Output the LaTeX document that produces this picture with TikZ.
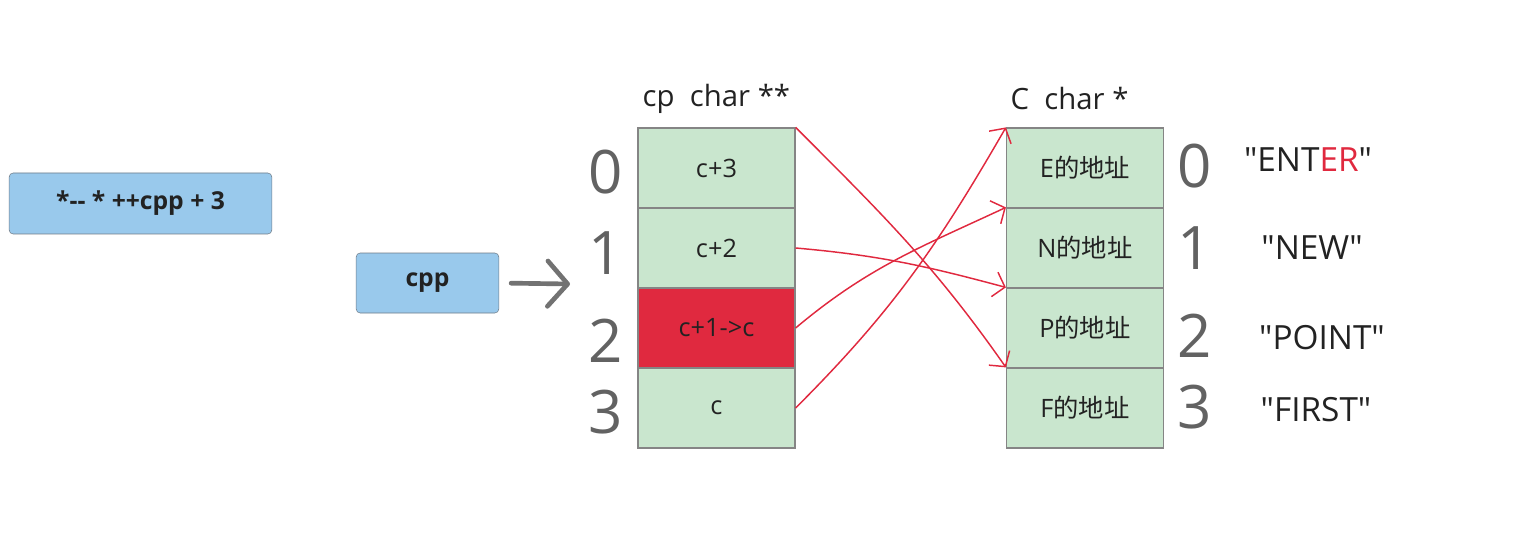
\documentclass[tikz,border=0pt]{standalone}
\usepackage{xcolor}
\usepackage{tikz}
\usepackage{fontspec}
\setmainfont{Open Sans}[Ligatures=TeXOff]
\newfontfamily\cjk{Noto Sans CJK SC}
\usetikzlibrary{positioning,calc,arrows.meta}

\definecolor{boxblue}{HTML}{99C9EC}
\definecolor{boxedge}{HTML}{6F7B86}
\definecolor{cellgreen}{HTML}{C9E6CE}
\definecolor{celledge}{HTML}{858585}
\definecolor{hotred}{HTML}{E0293F}
\definecolor{idxgray}{HTML}{626262}
\definecolor{textdark}{HTML}{222222}

\tikzset{
    exprbox/.style={draw=boxedge, fill=boxblue, rounded corners=3pt, inner sep=0pt,
        font=\fontsize{18.5}{22}\selectfont\bfseries, text=textdark},
    cell/.style={draw=celledge, line width=0.9pt, fill=cellgreen, minimum width=117.75pt,
        minimum height=60pt, inner sep=0pt, font=\fontsize{19}{22}\selectfont, text=textdark},
    idx/.style={font=\fontsize{45}{50}\selectfont, text=idxgray},
    strlabel/.style={font=\fontsize{25}{30}\selectfont, text=textdark},
    header/.style={font=\fontsize{22}{26}\selectfont, text=textdark, anchor=west},
    pointer/.style={hotred, line width=1.1pt, -{Straight Barb[length=8pt,width=19pt]}},
    bigarrow/.style={idxgray!90, line width=3.5pt, line cap=round, -{Straight Barb[length=15pt,width=34pt,round]}}
}

\begin{document}
\begin{tikzpicture}[x=0.75pt, y=-0.75pt]
    \useasboundingbox (0,0) rectangle (1533,538);

    % Expression and pointer boxes
    \node[exprbox, minimum width=197pt, minimum height=45.75pt] (expr) at (140.5,203.5) {\raisebox{-2pt}{*-- * ++cpp + 3}};
    \node[exprbox, minimum width=107pt, minimum height=45pt] (cpp) at (427.5,283) {\raisebox{-2pt}{cpp}};
    \coordinate (tip) at (570,284);
    \draw[bigarrow, shorten <=9pt] (cpp.east) -- (tip);

    % cp : char ** array
    \node[header] (cphead) at (638,99) {cp\ \ char **};
    \node[cell] (p0) at (716.5,168) {c+3};
    \node[cell] (p1) at (716.5,248) {c+2};
    \node[cell, fill=hotred] (p2) at (716.5,328) {c+1->c};
    \node[cell] (p3) at (716.5,408) {c};
    \node[idx] (pi0) at (606,172) {0};
    \node[idx] (pi1) at (606,253) {1};
    \node[idx] (pi2) at (606,341) {2};
    \node[idx] (pi3) at (606,412) {3};

    % c : char * array
    \node[header] (chead) at (1006,99) {C\ \ char *};
    \node[cell] (s0) at (1085,168) {E{\cjk 的地址}};
    \node[cell] (s1) at (1085,248) {N{\cjk 的地址}};
    \node[cell] (s2) at (1085,328) {P{\cjk 的地址}};
    \node[cell] (s3) at (1085,408) {F{\cjk 的地址}};
    \node[idx] (si0) at (1195,166) {0};
    \node[idx] (si1) at (1195,248) {1};
    \node[idx] (si2) at (1195,336) {2};
    \node[idx] (si3) at (1195,407) {3};

    % Strings
    \node[strlabel] (str0) at (1308,160) {"ENT\textcolor{hotred}{ER}"};
    \node[strlabel] (str1) at (1312,248) {"NEW"};
    \node[strlabel] (str2) at (1322,338) {"POINT"};
    \node[strlabel] (str3) at (1316,410) {"FIRST"};

    % Pointers after the swap
    \draw[pointer] (p0.north east) to[out=-45, in=125] (s3.north west);
    \draw[pointer] (p1.east) to[out=-5, in=165] (s2.north west);
    \draw[pointer] (p2.east) to[out=40, in=-155] (s1.north west);
    \draw[pointer] (p3.east) to[out=45, in=-120] (s0.north west);

\end{tikzpicture}
\end{document}
